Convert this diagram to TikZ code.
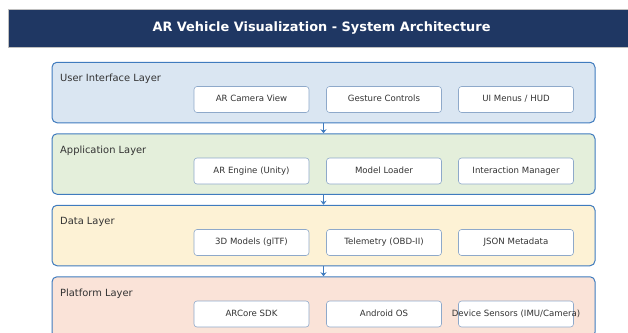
\documentclass[tikz,border=0pt]{standalone}
\usepackage{fontspec}
\setmainfont{DejaVu Sans}
\usetikzlibrary{arrows.meta}

\definecolor{barblue}{HTML}{1F3763}
\definecolor{layerline}{HTML}{3F7BBE}
\definecolor{boxline}{HTML}{8EA9CA}
\definecolor{uifill}{HTML}{DAE6F2}
\definecolor{appfill}{HTML}{E4EFDB}
\definecolor{datafill}{HTML}{FDF2D5}
\definecolor{platfill}{HTML}{FAE3D8}

\begin{document}
\begin{tikzpicture}[x=1pt,y=-1pt,
    layer/.style={draw=layerline, line width=1pt, rounded corners=5pt,
      minimum width=543pt, minimum height=60.5pt, inner sep=0pt},
    layername/.style={anchor=west, inner sep=0pt, text height=7.5pt, text depth=2pt,
      font=\fontsize{9.9}{11}\selectfont, text=black!80},
    comp/.style={draw=boxline, fill=white, rounded corners=3pt, line width=0.6pt,
      minimum width=115pt, minimum height=26pt, inner sep=0pt, text height=6.4pt, text depth=1.8pt,
      font=\fontsize{8.6}{10}\selectfont, text=black!80}]
    \useasboundingbox (0,0) rectangle (628,332);
    \clip (0,0) rectangle (628,332);
    \draw [draw=black!25, fill=barblue] (8,9) rectangle (640,47);
    \node (title) at (321.5,28) [text=white, font=\bfseries\fontsize{12.9}{15}\selectfont] {AR Vehicle Visualization - System Architecture};

    \node (ui) at (323.5,92.5) [layer, fill=uifill] {};
    \node (uiname) at (60,79) [layername] {User Interface Layer};
    \node (camview) at (251.5,99.5) [comp] {AR Camera View};
    \node (gesture) at (384,99.5) [comp] {Gesture Controls};
    \node (menus) at (516,99.5) [comp] {UI Menus / HUD};

    \node (app) at (323.5,164) [layer, fill=appfill] {};
    \node (appname) at (60,150.5) [layername] {Application Layer};
    \node (engine) at (251.5,171) [comp] {AR Engine (Unity)};
    \node (loader) at (384,171) [comp] {Model Loader};
    \node (interact) at (516,171) [comp] {Interaction Manager};

    \node (data) at (323.5,235.5) [layer, fill=datafill] {};
    \node (dataname) at (60,222) [layername] {Data Layer};
    \node (models) at (251.5,242.5) [comp] {3D Models (glTF)};
    \node (telemetry) at (384,242.5) [comp] {Telemetry (OBD-II)};
    \node (meta) at (516,242.5) [comp] {JSON Metadata};

    \node (plat) at (323.5,307) [layer, fill=platfill] {};
    \node (platname) at (60,293.5) [layername] {Platform Layer};
    \node (arcore) at (251.5,314) [comp] {ARCore SDK};
    \node (android) at (384,314) [comp] {Android OS};
    \node (sensors) at (516,314) [comp] {\makebox[0pt]{Device Sensors (IMU/Camera)}};

    \draw [draw=layerline, line width=1pt, -{Stealth[length=4pt,width=6pt]}] (ui.south) -- (app.north);
    \draw [draw=layerline, line width=1pt, -{Stealth[length=4pt,width=6pt]}] (app.south) -- (data.north);
    \draw [draw=layerline, line width=1pt, -{Stealth[length=4pt,width=6pt]}] (data.south) -- (plat.north);
\end{tikzpicture}
\end{document}
